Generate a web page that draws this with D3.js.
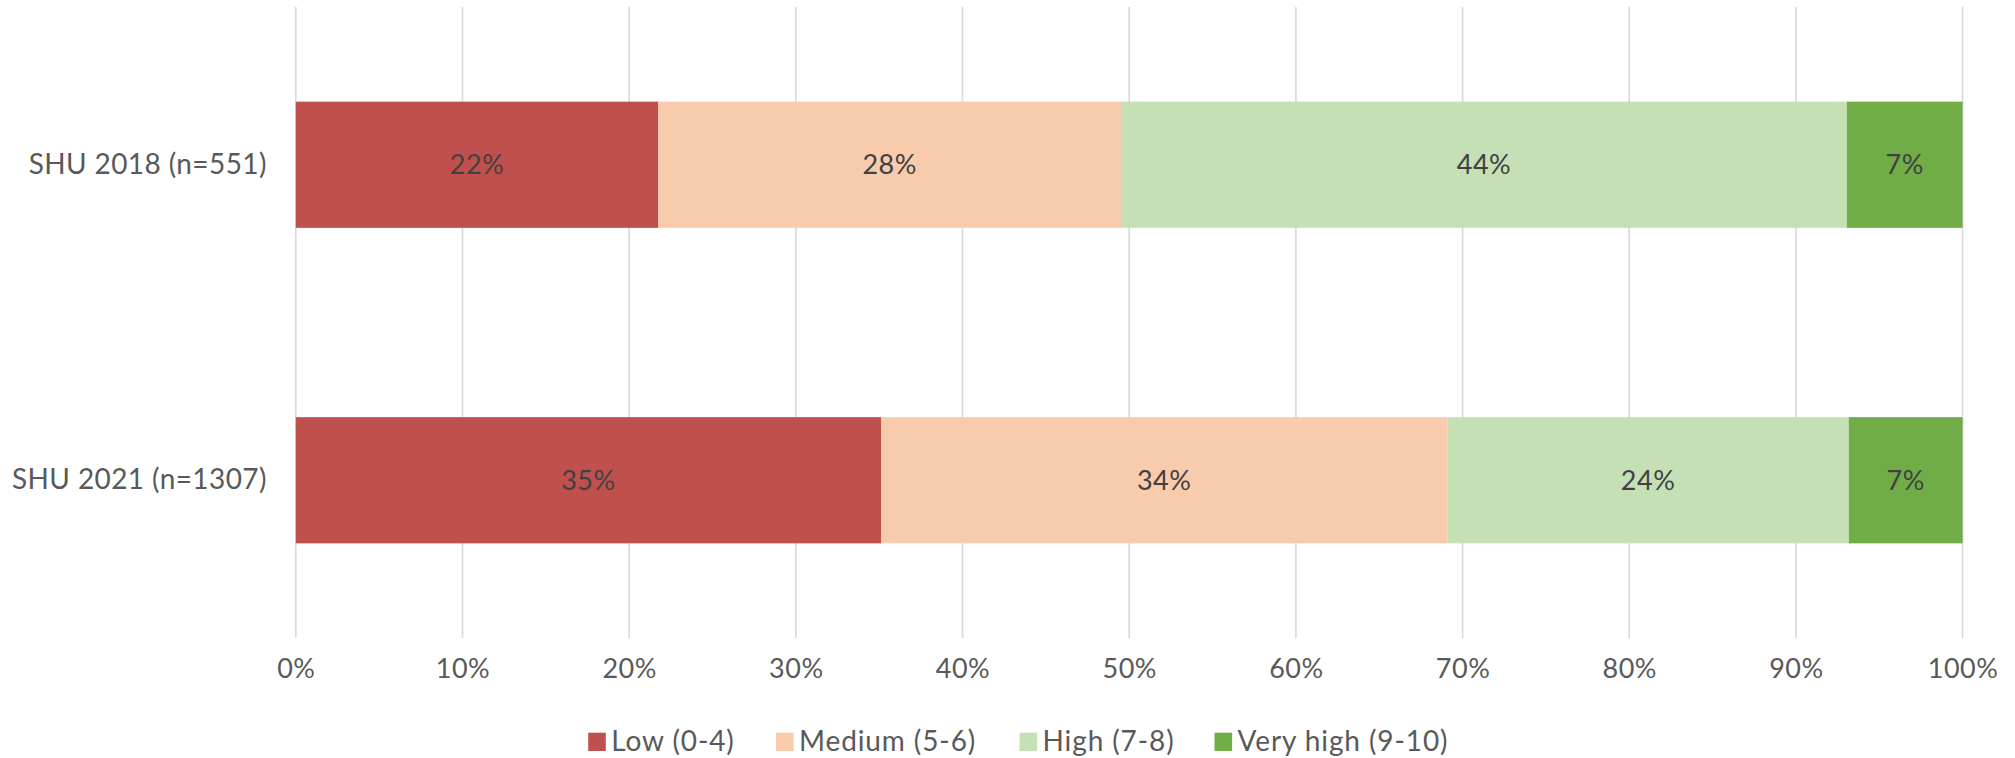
<!DOCTYPE html>
<html>
<head>
<meta charset="utf-8">
<script src="https://cdn.jsdelivr.net/npm/d3@7"></script>
<style>
  html, body { margin: 0; padding: 0; background: #ffffff; }
  svg { display: block; }
  text { font-family: Lato, "Open Sans", sans-serif; }
</style>
</head>
<body>
<svg id="chart" width="2015" height="758"></svg>
<script>
// Survey groups (rows, top to bottom)
const categories = ["SHU 2018 (n=551)", "SHU 2021 (n=1307)"];

// Rating bands (stack order, left to right)
const seriesNames = ["Low (0-4)", "Medium (5-6)", "High (7-8)", "Very high (9-10)"];

// Share of respondents in each band, per group (percent)
const low      = [21.75, 35.11];
const medium   = [27.76, 33.98];
const high     = [43.55, 24.08];
const veryHigh = [6.94, 6.83];

// Axis ticks (percent)
const tickValues = [0, 10, 20, 30, 40, 50, 60, 70, 80, 90, 100];

const colors = ["#C0504D", "#F8CBAD", "#C5E0B4", "#70AD47"];

const svg = d3.select("#chart");
const plot = { left: 295.8, right: 1962.6, top: 7, bottom: 638 };

const rows = categories.map((c, i) => ({
  category: c,
  [seriesNames[0]]: low[i],
  [seriesNames[1]]: medium[i],
  [seriesNames[2]]: high[i],
  [seriesNames[3]]: veryHigh[i]
}));

const stacked = d3.stack().keys(seriesNames)(rows);

const x = d3.scaleLinear().domain([0, 100]).range([plot.left, plot.right]);
const y = d3.scaleBand()
  .domain(categories)
  .range([plot.top, plot.bottom])
  .paddingInner(0.6)
  .paddingOuter(0.3);

const color = d3.scaleOrdinal().domain(seriesNames).range(colors);

// Vertical gridlines
svg.append("g")
  .selectAll("line")
  .data(tickValues)
  .join("line")
  .attr("x1", d => x(d)).attr("x2", d => x(d))
  .attr("y1", plot.top).attr("y2", plot.bottom)
  .attr("stroke", "#D9D9D9")
  .attr("stroke-width", 1.6);

// Stacked segments
const layers = svg.append("g")
  .selectAll("g")
  .data(stacked)
  .join("g")
  .attr("fill", d => color(d.key));

layers.selectAll("rect")
  .data(d => d.map(s => ({ s, key: d.key })))
  .join("rect")
  .attr("x", d => x(d.s[0]))
  .attr("width", d => x(d.s[1]) - x(d.s[0]))
  .attr("y", d => y(d.s.data.category))
  .attr("height", y.bandwidth());

// Segment value labels
const fmt = v => d3.format(".0f")(v) + "%";
layers.selectAll("text")
  .data(d => d.map(s => ({ s, key: d.key })))
  .join("text")
  .attr("x", d => (x(d.s[0]) + x(d.s[1])) / 2)
  .attr("y", d => y(d.s.data.category) + y.bandwidth() / 2)
  .attr("dy", "0.35em")
  .attr("text-anchor", "middle")
  .attr("fill", "#404040")
  .attr("font-size", 27)
  .attr("letter-spacing", 0.5)
  .text(d => fmt(d.s[1] - d.s[0]));

// Category labels
const yAxis = d3.axisLeft(y).tickSize(0).tickPadding(29);
svg.append("g")
  .attr("transform", `translate(${plot.left},0)`)
  .call(yAxis)
  .call(g => g.select(".domain").remove())
  .call(g => g.selectAll("text")
    .attr("fill", "#595959")
    .attr("font-size", 28)
    .attr("letter-spacing", 0.4)
    .attr("font-family", "Lato, 'Open Sans', sans-serif"));

// Percentage axis labels
const xAxis = d3.axisBottom(x).tickValues(tickValues).tickSize(0).tickPadding(40)
  .tickFormat(d => d + "%");
svg.append("g")
  .attr("transform", `translate(0,${plot.bottom})`)
  .call(xAxis)
  .call(g => g.select(".domain").remove())
  .call(g => g.selectAll("text")
    .attr("fill", "#595959")
    .attr("font-size", 27)
    .attr("letter-spacing", 0.5)
    .attr("font-family", "Lato, 'Open Sans', sans-serif")
    .attr("dy", "0"));

// Legend
const legendX = [588.2, 776, 1019.5, 1214.5];
const legend = svg.append("g")
  .selectAll("g")
  .data(seriesNames)
  .join("g")
  .attr("transform", (d, i) => `translate(${legendX[i]},0)`);

legend.append("rect")
  .attr("x", 0).attr("y", 732.7)
  .attr("width", 17.6).attr("height", 18.3)
  .attr("fill", d => color(d));

legend.append("text")
  .attr("x", 23)
  .attr("y", 750.5)
  .attr("fill", "#595959")
  .attr("font-size", 28)
  .attr("letter-spacing", 0.9)
  .text(d => d);
</script>
</body>
</html>
